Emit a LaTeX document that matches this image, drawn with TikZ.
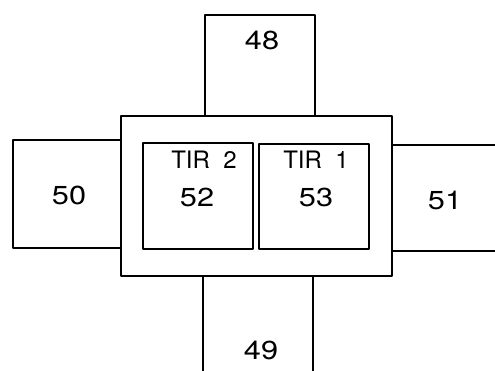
\documentclass[tikz,border=0pt]{standalone}
\usepackage{fontspec}
\setmainfont{TeX Gyre Heros}
\newfontfamily\widefont[FakeStretch=1.18]{TeX Gyre Heros}
\begin{document}
\begin{tikzpicture}[x=1pt,y=-1pt,
  line/.style={line width=2.2pt,line join=round},
  num/.style={font=\widefont\fontsize{26}{28}\selectfont,inner sep=0pt},
  lab/.style={font=\fontsize{24}{26}\selectfont,inner sep=0pt}]
\useasboundingbox (0,0) rectangle (495,371);
% top box 48
\draw[line] (205,116) -- (205,15) -- (315,15) -- (315,116);
% left box 50
\draw[line] (121,140) -- (13,140) -- (13,248) -- (121,248);
% right box 51 (open to the right)
\draw[line] (392,145) -- (496,145);
\draw[line] (392,251) -- (496,251);
% bottom box 49 (open at bottom)
\draw[line] (203,276) -- (203,372);
\draw[line] (313,276) -- (313,372);
% center frame
\draw[line] (121,116) rectangle (392,276);
% inner boxes
\draw[line] (143,143) rectangle (253,249);
\draw[line] (259,144) rectangle (369,249);
% labels
\node[num] (n48) at (262,40) {48};
\node[num] (n50) at (69,195) {50};
\node[num] (n51) at (445,200) {51};
\node[num] (n49) at (261,350) {49};
\node[lab] (t2) at (204,160) {TIR\ \ 2};
\node[num] (n52) at (197,197) {52};
\node[lab] (t1) at (316,160) {TIR\ \ 1};
\node[num] (n53) at (316,197) {53};
\end{tikzpicture}
\end{document}
